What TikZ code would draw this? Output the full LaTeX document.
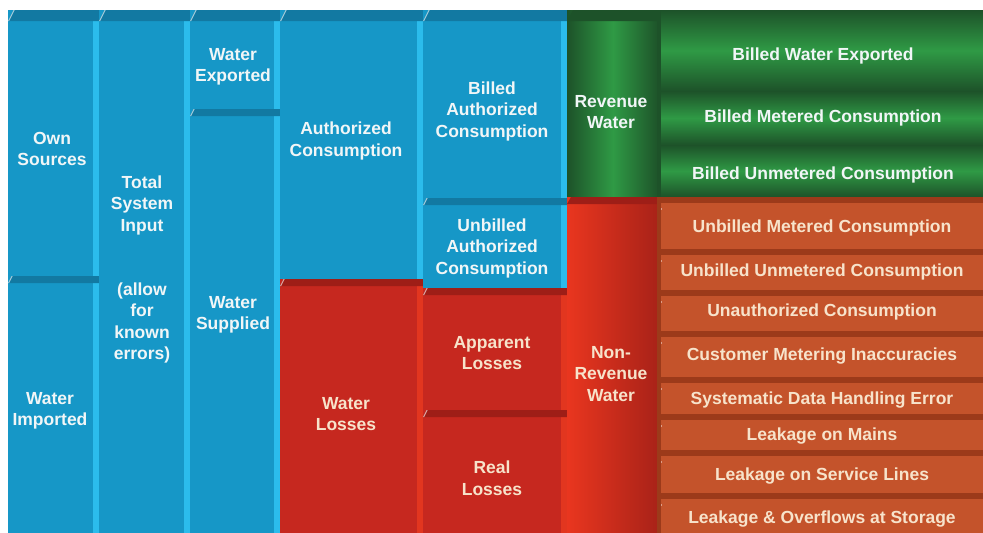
\documentclass[tikz,border=0pt]{standalone}
\usepackage{fontspec}
\setmainfont{Liberation Sans}
\begin{document}
\begin{tikzpicture}[x=1pt,y=-1pt]
% palette
\definecolor{blueface}{HTML}{1697C7}
\definecolor{bluetop}{HTML}{1279A2}
\definecolor{blueside}{HTML}{2BBCEC}
\definecolor{redface}{HTML}{C6281F}
\definecolor{redtop}{HTML}{9E1E17}
\definecolor{redside}{HTML}{E2361F}
\definecolor{nrwlight}{HTML}{E9361F}
\definecolor{nrwdark}{HTML}{A82218}
\definecolor{orangeface}{HTML}{C4532B}
\definecolor{orangetop}{HTML}{9C3A1A}
\definecolor{greendark}{HTML}{1D5229}
\definecolor{greenlight}{HTML}{2F9A45}
\definecolor{lighttext}{HTML}{F1F6F7}
\definecolor{creamtext}{HTML}{F7E3CB}
\tikzset{
  lbl/.style={align=center, font=\bfseries\fontsize{17.5}{21.5}\selectfont, text=lighttext, inner sep=0pt},
  lblwarm/.style={lbl, text=creamtext},
}
% a bevelled block: x0, y0, x1, y1, face, top band, right side, band height
\newcommand\wbcell[8]{%
  \fill[#5] (#1,#2) rectangle (#3+1,#4);
  \fill[#7] (#3-6,#2) rectangle (#3,#4);
  \fill[#6] (#1,#2+#8) -- (#1+#8*0.5,#2) -- (#3,#2) -- (#3,#2+#8) -- cycle;
  \fill[white,opacity=.6] (#1,#2+#8) -- (#1+#8*0.5,#2) -- (#1+#8*0.5+1.2,#2) -- (#1+1.2,#2+#8) -- cycle;
}
% an orange strip of the right-hand column
\newcommand\orangerow[2]{%
  \fill[orangeface] (659,#1) rectangle (983,#2+1);
  \fill[orangetop] (659,#1) rectangle (983,#1+6);
  \fill[white,opacity=.6] (661,#1+12) circle (1);
}
% a green strip of the right-hand column
\newcommand\greenrow[2]{%
  \fill[top color=greendark, bottom color=greendark, middle color=greenlight] (659,#1) rectangle (983,#2);
}
\useasboundingbox[fill=white] (0,0) rectangle (983,533);

% column 1
\wbcell{8}{10}{99}{277}{blueface}{bluetop}{blueside}{11}
\wbcell{8}{276}{99}{533}{blueface}{bluetop}{blueside}{7}
% column 2
\wbcell{99}{10}{190}{533}{blueface}{bluetop}{blueside}{11}
% column 3
\wbcell{190}{10}{280}{110}{blueface}{bluetop}{blueside}{11}
\wbcell{190}{109}{280}{533}{blueface}{bluetop}{blueside}{7}
% column 4
\wbcell{280}{10}{423}{280}{blueface}{bluetop}{blueside}{11}
\wbcell{280}{279}{423}{533}{redface}{redtop}{redside}{7}
% column 5
\wbcell{423}{10}{567}{199}{blueface}{bluetop}{blueside}{11}
\wbcell{423}{198}{567}{289}{blueface}{bluetop}{blueside}{7}
\wbcell{423}{288}{567}{411}{redface}{redtop}{redside}{7}
\wbcell{423}{410}{567}{533}{redface}{redtop}{redside}{7}
% column 6
\fill[left color=greendark, right color=greendark, middle color=greenlight] (567,10) rectangle (659,198);
\fill[greendark] (567,21) -- (573,10) -- (659,10) -- (659,21) -- cycle;
\fill[left color=nrwlight, right color=nrwdark] (567,197) rectangle (659,533);
\fill[redtop] (567,204) -- (571,197) -- (659,197) -- (659,204) -- cycle;
% column 7
\greenrow{10}{91}
\greenrow{91}{145}
\greenrow{145}{197}
\orangerow{197}{249}
\orangerow{249}{290}
\orangerow{290}{331}
\orangerow{331}{377}
\orangerow{377}{414}
\orangerow{414}{450}
\orangerow{450}{493}
\orangerow{493}{533}
\fill[greendark] (657,10) rectangle (661,197);
\fill[orangetop] (657,197) rectangle (661,533);

% labels
\node[lbl] (own) at (52,149) {Own\\Sources};
\node[lbl] (imported) at (50,411) {Water\\Imported};
\node[lbl] (total) at (142,205) {Total\\System\\Input};
\node[lbl] (allow) at (142,323) {(allow\\for\\known\\errors)};
\node[lbl] (exported) at (233,67) {Water\\Exported};
\node[lbl] (supplied) at (233,315) {Water\\Supplied};
\node[lbl] (authorized) at (346,141) {Authorized\\Consumption};
\node[lblwarm] (losses) at (346,414) {Water\\Losses};
\node[lbl] (billedauth) at (492,111) {Billed\\Authorized\\Consumption};
\node[lbl] (unbilledauth) at (492,248) {Unbilled\\Authorized\\Consumption};
\node[lblwarm] (apparent) at (492,353) {Apparent\\Losses};
\node[lblwarm] (real) at (492,478) {Real\\Losses};
\node[lbl] (revenue) at (611,112) {Revenue\\Water};
\node[lblwarm] (nonrevenue) at (611,374) {Non-\\Revenue\\Water};
\node[lbl] (bwe) at (823,56) {Billed Water Exported};
\node[lbl] (bmc) at (823,118) {Billed Metered Consumption};
\node[lbl] (buc) at (823,175) {Billed Unmetered Consumption};
\node[lblwarm] (umc) at (822,228) {Unbilled Metered Consumption};
\node[lblwarm] (uuc) at (822,272) {Unbilled Unmetered Consumption};
\node[lblwarm] (uac) at (822,312) {Unauthorized Consumption};
\node[lblwarm] (cmi) at (822,356) {Customer Metering Inaccuracies};
\node[lblwarm] (sdh) at (822,400) {Systematic Data Handling Error};
\node[lblwarm] (lom) at (822,436) {Leakage on Mains};
\node[lblwarm] (lsl) at (822,476) {Leakage on Service Lines};
\node[lblwarm] (los) at (822,519) {Leakage \& Overflows at Storage};
\end{tikzpicture}
\end{document}
